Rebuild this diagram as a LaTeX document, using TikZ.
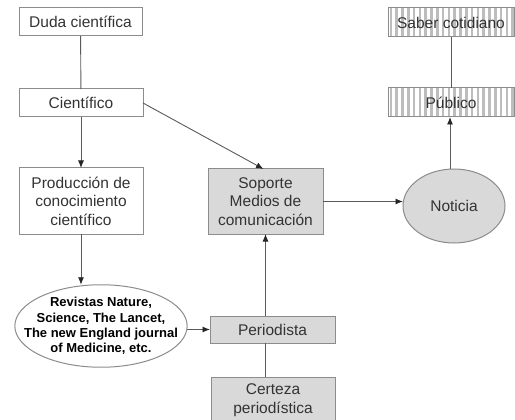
\documentclass[tikz,border=0pt]{standalone}
\usepackage{fontspec}
\setmainfont{Liberation Sans}
\usetikzlibrary{arrows.meta,shapes.geometric}
\definecolor{boxgray}{HTML}{D9D9D9}
\definecolor{edgegray}{HTML}{8C8C8C}
\definecolor{linegray}{HTML}{5A5A5A}
\definecolor{txtgray}{HTML}{333333}
\definecolor{stripegray}{HTML}{BDBDBD}
\tikzset{
  base/.style={draw=edgegray, line width=1pt, text=txtgray, inner sep=0pt, outer sep=0pt, align=center,
    font=\fontsize{15.5}{18.5}\selectfont},
  whitebox/.style={base, rectangle, fill=white},
  graybox/.style={base, rectangle, fill=boxgray},
  stripebox/.style={base, rectangle, fill=white,
    path picture={\foreach \k in {0,...,22}
      \fill[stripegray] ([xshift=\k*5.8pt+1.5pt]path picture bounding box.south west) rectangle ++(2.6pt,40pt);}},
  conn/.style={draw=linegray, line width=0.9pt},
  arr/.style={conn, -{Latex[length=7.5pt,width=6pt,color=black!85]}},
}
\begin{document}
\begin{tikzpicture}[x=1pt,y=-1pt]
\useasboundingbox (0,0) rectangle (515,420);
\node[whitebox, minimum width=123pt, minimum height=28pt] (duda) at (80.5,22) {Duda científica};
\node[whitebox, minimum width=124pt, minimum height=28pt] (cien) at (81,103) {Científico};
\node[whitebox, minimum width=124pt, minimum height=66pt] (prod) at (81,201) {Producción de\\conocimiento\\científico};
\node[base, ellipse, fill=white, inner xsep=-16pt, inner ysep=0.5pt,
  font=\bfseries\fontsize{13}{15.3}\selectfont, text=black] (rev) at (101,326)
  {Revistas Nature,\\Science, The Lancet,\\The new England journal\\of Medicine, etc.};
\node[graybox, minimum width=125pt, minimum height=27pt] (per) at (272.5,329.5) {Periodista};
\node[graybox, minimum width=124pt, minimum height=46pt] (cert) at (273,400) {Certeza\\periodística};
\node[graybox, minimum width=115pt, minimum height=65pt] (sop) at (265.5,201.5) {Soporte\\Medios de\\comunicación};
\node[base, ellipse, fill=boxgray, minimum width=102pt, minimum height=74pt] (not) at (454,206) {Noticia};
\node[stripebox, minimum width=126pt, minimum height=29pt] (sab) at (451,22.5) {Saber cotidiano};
\node[stripebox, minimum width=126pt, minimum height=29pt] (pub) at (451,102.5) {Público};

\draw[conn] (duda) -- (cien);
\draw[arr] (cien) -- (prod);
\draw[arr] (prod.south) -- (prod.south |- rev.north);
\draw[arr] (cien.east) -- ([xshift=-2pt]sop.north);
\draw[arr] (rev.east |- per) -- (per.west);
\draw[arr] (sop.south |- per.north) -- (sop.south);
\draw[conn] (sop.south |- cert.north) -- (sop.south |- per.south);
\draw[arr] (sop.east) -- (not.west |- sop.east);
\draw[arr] ([xshift=-1pt]pub.south |- not.north) -- ([xshift=-1pt]pub.south);
\draw[conn] (sab) -- (pub);
\end{tikzpicture}
\end{document}
